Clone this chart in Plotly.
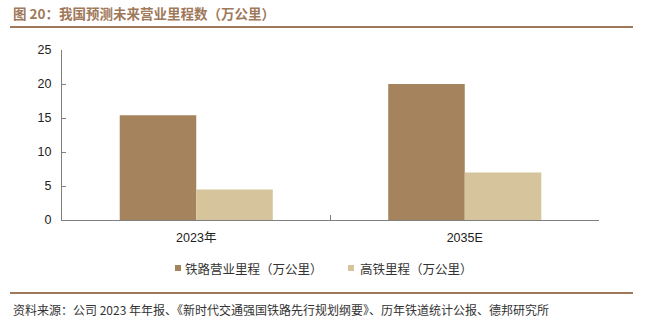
import plotly.graph_objects as go

categories = ["2023年", "2035E"]
series_names = ["铁路营业里程（万公里）", "高铁里程（万公里）"]
rail_km = [15.4, 20.0]      # 铁路营业里程（万公里）
hsr_km = [4.5, 7.0]         # 高铁里程（万公里）
y_ticks = [0, 5, 10, 15, 20, 25]
colors = ["#a5835c", "#d5c49c"]

W, H = 647, 333
L, R, T, B = 62, 48, 50, 113
pw, ph = W - L - R, H - T - B


def px_x(x):
    return (x - L) / pw


def px_y(y):
    return (H - B - y) / ph


brown = "#a0785a"
fig = go.Figure()
for name, vals, col in zip(series_names, [rail_km, hsr_km], colors):
    fig.add_trace(go.Bar(x=categories, y=vals, name=name,
                         marker=dict(color=col, line=dict(width=0))))

# legend drawn as small squares with labels beneath the plot
legend_shapes, legend_notes = [], []
for (sq_x, txt_x), name, col in zip([(175, 183), (348, 358)], series_names, colors):
    legend_shapes.append(dict(type="rect", xref="paper", yref="paper",
                              x0=px_x(sq_x), x1=px_x(sq_x + 6),
                              y0=px_y(271), y1=px_y(265),
                              fillcolor=col, line=dict(width=0)))
    legend_notes.append(dict(text=name, xref="paper", yref="paper",
                             x=px_x(txt_x), y=px_y(268), xanchor="left", yanchor="middle",
                             showarrow=False,
                             font=dict(family="Noto Sans CJK SC", size=12.5, color="#333")))

fig.update_layout(
    width=W, height=H,
    margin=dict(l=L, r=R, t=T, b=B),
    paper_bgcolor="white", plot_bgcolor="white",
    barmode="group", bargap=0.43, bargroupgap=0,
    font=dict(family="Liberation Sans, Noto Sans CJK SC", size=12, color="#333"),
    showlegend=False,
    xaxis=dict(showline=True, linecolor="#808080", linewidth=1,
               ticks="inside", ticklen=5, tickcolor="#808080", tickson="boundaries",
               ticklabelstandoff=6,
               tickfont=dict(family="Liberation Sans, Noto Sans CJK SC", size=12.5, color="#222"),
               showgrid=False, fixedrange=True),
    yaxis=dict(range=[0, 25], tickvals=y_ticks, showline=True, linecolor="#808080", linewidth=1,
               ticks="inside", ticklen=4, tickcolor="#808080", ticklabelstandoff=7,
               tickfont=dict(family="Liberation Sans", size=12.5, color="#222"),
               showgrid=False, zeroline=False, fixedrange=True),
    shapes=[
        dict(type="line", xref="paper", yref="paper", x0=px_x(10), x1=px_x(633),
             y0=px_y(27), y1=px_y(27), line=dict(color=brown, width=2)),
        dict(type="line", xref="paper", yref="paper", x0=px_x(10), x1=px_x(633),
             y0=px_y(293), y1=px_y(293), line=dict(color=brown, width=2)),
    ] + legend_shapes,
    annotations=[
        dict(text="<b>图 20：我国预测未来营业里程数（万公里）</b>", xref="paper", yref="paper",
             x=px_x(11), y=px_y(13), xanchor="left", yanchor="middle", showarrow=False,
             font=dict(family="Noto Sans CJK SC", size=13.5, color=brown)),
        dict(text="资料来源：公司 2023 年年报、《新时代交通强国铁路先行规划纲要》、历年铁道统计公报、德邦研究所",
             xref="paper", yref="paper", x=px_x(11), y=px_y(309), xanchor="left", yanchor="middle",
             showarrow=False, font=dict(family="Noto Sans CJK SC", size=12, color="#333")),
    ] + legend_notes,
)

fig.write_html("out.html")
